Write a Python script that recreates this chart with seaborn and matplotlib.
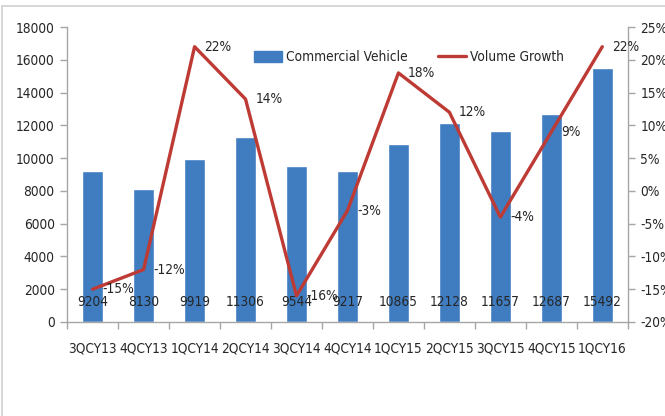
import matplotlib
matplotlib.use("Agg")
import matplotlib.pyplot as plt
import seaborn as sns
import pandas as pd
import numpy as np
from matplotlib.lines import Line2D
from matplotlib.patches import Patch

quarters = ["3QCY13", "4QCY13", "1QCY14", "2QCY14", "3QCY14", "4QCY14",
            "1QCY15", "2QCY15", "3QCY15", "4QCY15", "1QCY16"]
volumes = [9204, 8130, 9919, 11306, 9544, 9217, 10865, 12128, 11657, 12687, 15492]
growth = [-15, -12, 22, 14, -16, -3, 18, 12, -4, 9, 22]
left_ticks = list(range(0, 18001, 2000))
right_ticks = list(range(-20, 26, 5))

df = pd.DataFrame({"quarter": quarters, "volume": volumes, "growth": growth})

sns.set_theme(style="white")
plt.rcParams["font.family"] = ["DejaVu Sans"]
plt.rcParams["font.stretch"] = "condensed"

FS = 9.8
BAR = "#3F7CC0"
LINE = "#BE3A34"
TXT = "#262626"
AX = "#A6A6A6"

fig = plt.figure(figsize=(6.65, 4.16), dpi=100)
ax = fig.add_axes([0.101, 0.226, 0.843, 0.709])

sns.barplot(data=df, x="quarter", y="volume", color=BAR, width=0.41,
            saturation=1, ax=ax, zorder=2)
ax.set_xlim(-0.5, len(quarters) - 0.5)
ax.set_ylim(0, 18000)
ax.set_yticks(left_ticks)
ax.set_yticklabels([str(v) for v in left_ticks], fontsize=FS, color=TXT)
ax.set_xlabel("")
ax.set_ylabel("")

ax.set_xticks(np.arange(-0.5, len(quarters), 1.0))
ax.set_xticklabels([""] * (len(quarters) + 1))
ax.set_xticks(np.arange(len(quarters)), minor=True)
ax.set_xticklabels(quarters, minor=True, fontsize=FS, color=TXT)
ax.tick_params(axis="x", which="major", length=5, width=1, color=AX, direction="out", bottom=True)
ax.tick_params(axis="x", which="minor", length=0, pad=14)
ax.tick_params(axis="y", length=5, width=1, color=AX, direction="out", left=True, pad=4)

for s in ["top", "right"]:
    ax.spines[s].set_visible(False)
for s in ["left", "bottom"]:
    ax.spines[s].set_color(AX)
    ax.spines[s].set_linewidth(1)

for i, v in enumerate(volumes):
    ax.text(i, 1200, str(v), ha="center", va="center", fontsize=FS, color=TXT, zorder=5)

ax2 = ax.twinx()
sns.lineplot(data=df, x="quarter", y="growth", color=LINE, linewidth=2.4, ax=ax2,
             sort=False, zorder=3)
ax2.set_ylim(-20, 25)
ax2.set_yticks(right_ticks)
ax2.set_yticklabels([f"{v}%" for v in right_ticks], fontsize=FS, color=TXT)
ax2.set_ylabel("")
ax2.set_xlim(-0.5, len(quarters) - 0.5)
ax2.tick_params(axis="y", length=5, width=1, color=AX, direction="out", right=True, pad=4)
for s in ["top", "left", "bottom"]:
    ax2.spines[s].set_visible(False)
ax2.spines["right"].set_color(AX)
ax2.spines["right"].set_linewidth(1)

for i, g in enumerate(growth):
    ax2.annotate(f"{g}%", (i, g), xytext=(7, 0), textcoords="offset points",
                 ha="left", va="center", fontsize=FS, color=TXT, zorder=6)

handles = [Patch(facecolor=BAR, edgecolor=BAR),
           Line2D([0], [0], color=LINE, linewidth=2.4)]
fig.legend(handles, ["Commercial Vehicle", "Volume Growth"], loc="center",
           bbox_to_anchor=(0.615, 0.862), ncol=2, frameon=False, fontsize=FS,
           handlelength=2.1, handleheight=0.8, columnspacing=2.2, handletextpad=0.3,
           labelcolor=TXT)

fig.add_artist(Line2D([0.003, 0.003], [0.0, 0.986], color="#D0D0D0", linewidth=1.2, transform=fig.transFigure))
fig.add_artist(Line2D([0.003, 1.0], [0.986, 0.986], color="#D0D0D0", linewidth=1.2, transform=fig.transFigure))

fig.savefig("out.png", dpi=100)
